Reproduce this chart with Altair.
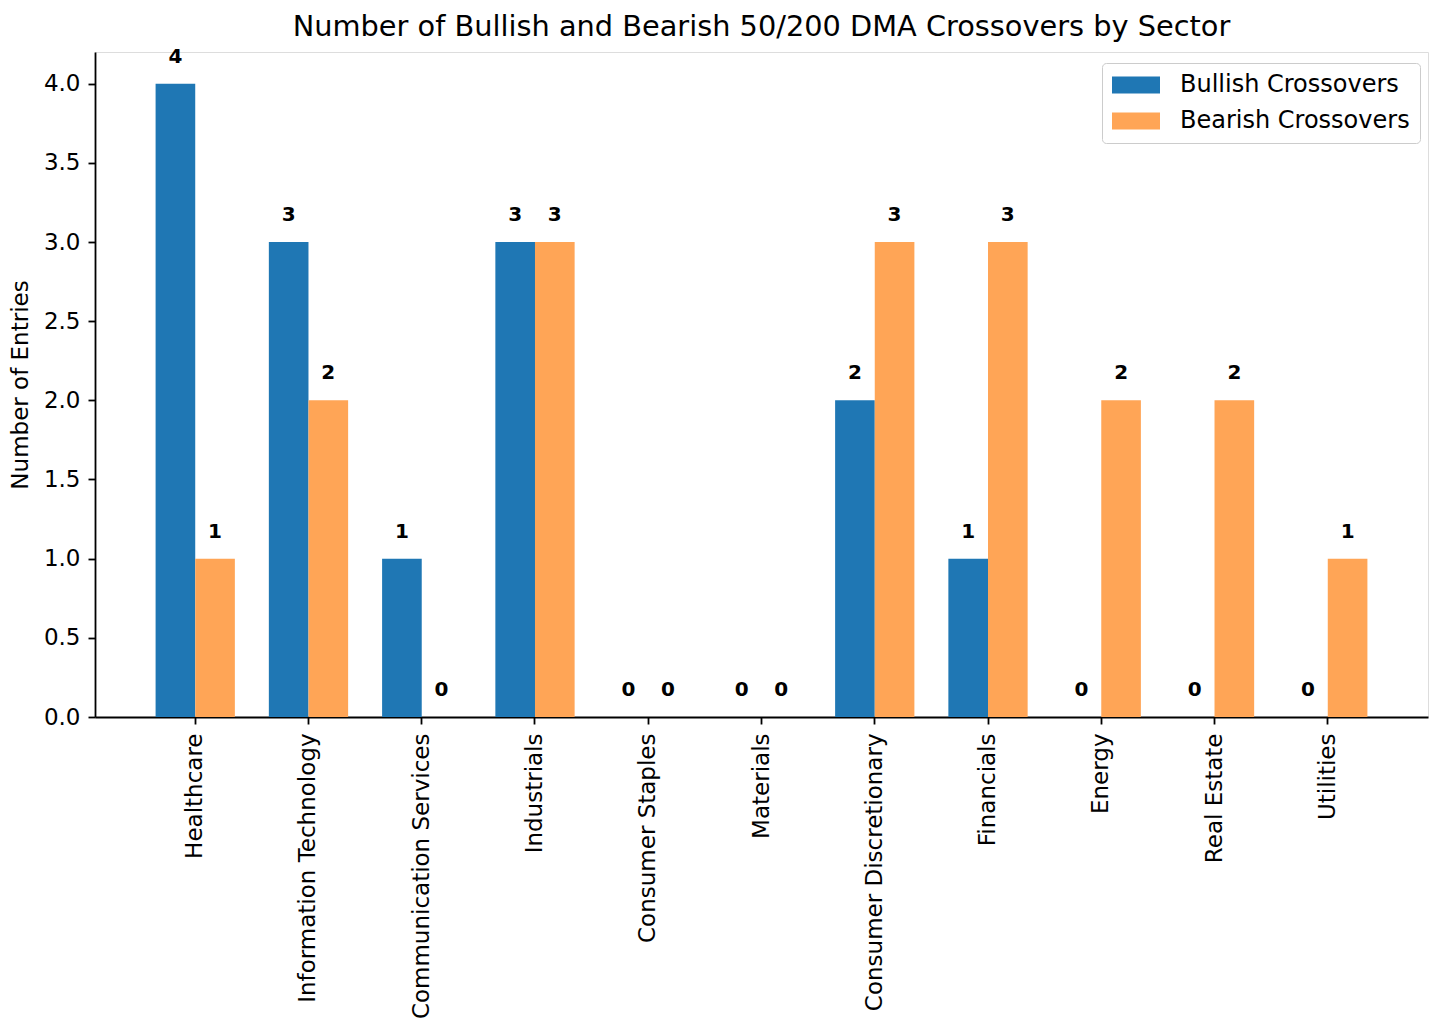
import altair as alt
import pandas as pd

sectors = ["Healthcare", "Information Technology", "Communication Services", "Industrials",
           "Consumer Staples", "Materials", "Consumer Discretionary", "Financials",
           "Energy", "Real Estate", "Utilities"]
bullish = [4, 3, 1, 3, 0, 0, 2, 1, 0, 0, 0]
bearish = [1, 2, 0, 3, 0, 0, 3, 3, 2, 2, 1]
series_names = ["Bullish Crossovers", "Bearish Crossovers"]
colors = ["#1f77b4", "#ffa556"]

rows = []
for s, b, e in zip(sectors, bullish, bearish):
    rows.append({"sector": s, "series": series_names[0], "value": b})
    rows.append({"sector": s, "series": series_names[1], "value": e})
df = pd.DataFrame(rows)

FONT = "DejaVu Sans"

x_enc = alt.X("sector:N", sort=sectors, title=None,
              scale=alt.Scale(paddingInner=0.3, paddingOuter=0.535),
              axis=alt.Axis(labelAngle=270, labelAlign="right", labelBaseline="middle",
                            labelFontSize=23, labelFont=FONT, labelColor="black", labelLimit=0,
                            labelPadding=9, tickSize=7, tickWidth=1.8, tickColor="black",
                            domainColor="black", domainWidth=1.8, grid=False))
xoff = alt.XOffset("series:N", sort=series_names, scale=alt.Scale(paddingInner=0, paddingOuter=0))
y_enc = alt.Y("value:Q", title="Number of Entries",
              scale=alt.Scale(domain=[0, 4.2], nice=False, zero=True),
              axis=alt.Axis(values=[0, 0.5, 1, 1.5, 2, 2.5, 3, 3.5, 4], format=".1f",
                            labelFontSize=23, labelFont=FONT, labelColor="black",
                            labelPadding=8, tickSize=7, tickWidth=1.8, tickColor="black",
                            domainColor="black", domainWidth=1.8, grid=False,
                            titleFontSize=23, titleFont=FONT, titleFontWeight="normal",
                            titleColor="black", titlePadding=11))

color_enc = alt.Color("series:N", sort=series_names,
                      scale=alt.Scale(domain=series_names, range=colors),
                      legend=alt.Legend(title=None, orient="none", legendX=1007, legendY=11,
                                        symbolType="M-1,-0.7H3V0.7H-1Z", symbolSize=576,
                                        symbolStrokeWidth=0, labelFontSize=24, labelFont=FONT,
                                        labelColor="black", labelOffset=44, rowPadding=12,
                                        labelLimit=0, padding=10, strokeColor="#cccccc",
                                        fillColor="white", cornerRadius=4))

bars = alt.Chart(df).mark_bar(stroke=None).encode(x=x_enc, xOffset=xoff, y=y_enc, color=color_enc)

labels = alt.Chart(df).mark_text(fontWeight="bold", fontSize=20, font=FONT, color="black",
                                 baseline="alphabetic", dy=-21).encode(
    x=alt.X("sector:N", sort=sectors),
    xOffset=alt.XOffset("series:N", sort=series_names),
    y=alt.Y("value:Q"),
    text=alt.Text("value:Q", format="d"),
)

chart = (bars + labels).properties(
    width=1333, height=665,
    title=alt.Title("Number of Bullish and Bearish 50/200 DMA Crossovers by Sector",
                    fontSize=28.8, font=FONT, fontWeight="normal", color="black", offset=5),
    autosize=alt.AutoSizeParams(type="none"),
    padding={"left": 87, "top": 44, "right": 2, "bottom": 308},
).configure_view(stroke="black", strokeWidth=1.8).configure(background="white")

chart.save("out.html", embed_options={"renderer": "svg", "actions": False})
